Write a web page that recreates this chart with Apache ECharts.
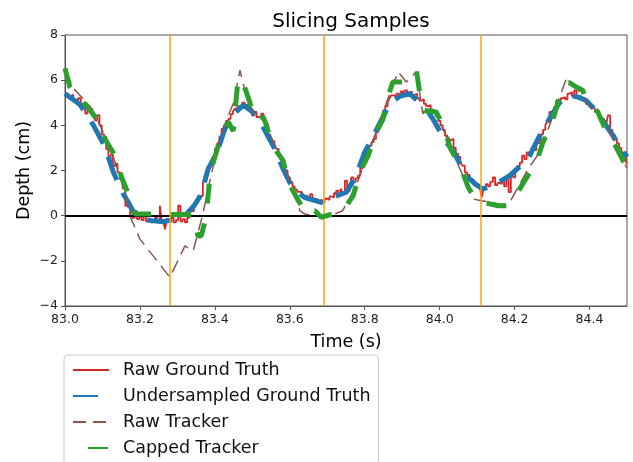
<!DOCTYPE html>
<html>
<head>
<meta charset="utf-8">
<script src="https://cdn.jsdelivr.net/npm/echarts@6/dist/echarts.min.js"></script>
<style>
  html, body { margin: 0; padding: 0; background: #fff; }
  #chart { width: 633px; height: 462px; }
</style>
</head>
<body>
<div id="chart"></div>
<script>
// [time (s), depth (cm)]
var rawGroundTruth = [
  [83.000,5.40],[83.008,5.30],[83.015,5.35],[83.022,5.15],[83.028,5.10],[83.035,5.20],[83.042,4.95],[83.048,5.00],
  [83.054,4.52],[83.060,4.85],[83.067,4.74],[83.073,4.40],[83.080,4.22],[83.086,4.45],[83.092,4.00],[83.098,3.60],
  [83.104,3.30],[83.110,2.95],[83.116,2.52],[83.122,2.70],[83.128,2.20],[83.134,2.30],[83.140,1.92],[83.147,1.60],
  [83.154,1.20],[83.161,0.44],[83.167,0.60],[83.174,0.00],[83.180,-0.10],[83.186,0.20],[83.192,-0.15],[83.198,-0.05],
  [83.204,-0.20],[83.210,0.10],[83.216,-0.25],[83.222,-0.15],[83.228,-0.30],[83.234,-0.20],[83.240,-0.10],[83.246,-0.25],
  [83.253,0.44],[83.258,-0.20],[83.263,-0.30],[83.267,-0.60],[83.272,-0.15],[83.278,-0.25],[83.284,-0.10],[83.290,-0.30],
  [83.296,-0.20],[83.302,0.44],[83.308,-0.25],[83.314,-0.15],[83.320,-0.30],[83.326,-0.10],[83.332,0.30],[83.338,0.20],
  [83.344,0.50],[83.350,0.60],[83.356,0.75],[83.362,0.88],[83.368,1.40],[83.373,1.77],[83.380,2.10],[83.387,2.37],
  [83.393,2.60],[83.400,2.96],[83.406,3.20],[83.412,3.50],[83.418,3.85],[83.424,4.00],[83.430,4.20],[83.436,4.29],
  [83.442,4.50],[83.448,4.60],[83.453,4.74],[83.460,4.85],[83.467,4.89],[83.473,5.00],[83.480,4.90],[83.486,4.95],
  [83.493,4.74],[83.499,4.44],[83.505,4.60],[83.511,4.37],[83.518,4.40],[83.524,4.52],[83.530,4.20],[83.536,4.05],
  [83.542,3.70],[83.547,3.40],[83.553,3.30],[83.559,3.05],[83.564,2.96],[83.570,2.70],[83.576,2.50],[83.582,2.22],
  [83.588,2.00],[83.594,1.70],[83.600,1.48],[83.607,1.30],[83.613,1.15],[83.620,1.05],[83.627,1.04],[83.633,0.85],
  [83.640,0.90],[83.647,0.80],[83.654,0.95],[83.660,0.75],[83.667,0.74],[83.673,0.65],[83.680,0.70],[83.686,0.59],
  [83.693,0.75],[83.700,0.70],[83.706,0.85],[83.712,0.80],[83.718,1.00],[83.724,1.11],[83.730,0.95],[83.736,1.20],
  [83.741,1.00],[83.747,1.55],[83.753,1.10],[83.760,1.04],[83.764,1.70],[83.770,1.50],[83.776,1.65],[83.782,1.77],
  [83.788,2.10],[83.794,2.40],[83.800,2.65],[83.806,2.80],[83.812,3.10],[83.818,3.26],[83.824,3.40],[83.830,3.70],
  [83.836,4.00],[83.842,4.25],[83.849,4.66],[83.855,4.85],[83.861,5.00],[83.866,5.20],[83.871,5.33],[83.878,5.25],
  [83.884,5.40],[83.890,5.35],[83.896,5.50],[83.902,5.40],[83.907,5.55],[83.913,5.45],[83.920,5.50],[83.926,5.35],
  [83.933,5.40],[83.940,5.20],[83.946,5.10],[83.952,5.15],[83.958,4.95],[83.964,4.85],[83.970,4.90],[83.976,4.70],
  [83.982,4.59],[83.989,4.40],[83.996,4.20],[84.002,4.00],[84.008,3.80],[84.014,3.55],[84.020,3.60],[84.025,3.35],
  [84.031,3.40],[84.037,3.00],[84.043,2.75],[84.049,2.60],[84.055,2.40],[84.060,2.22],[84.067,1.92],[84.073,1.80],
  [84.080,1.63],[84.086,1.55],[84.093,1.40],[84.100,1.35],[84.107,1.26],[84.112,0.81],[84.117,1.20],[84.123,1.40],
  [84.129,1.30],[84.135,1.50],[84.142,1.70],[84.148,1.35],[84.154,1.45],[84.160,1.40],[84.166,1.55],[84.172,1.30],
  [84.178,1.60],[84.184,1.04],[84.190,1.92],[84.196,1.70],[84.202,2.00],[84.208,2.20],[84.214,2.35],[84.220,2.66],
  [84.226,2.50],[84.232,2.80],[84.238,2.66],[84.245,3.00],[84.251,2.90],[84.258,3.33],[84.264,3.20],[84.270,3.60],
  [84.276,3.80],[84.282,4.00],[84.287,4.20],[84.293,4.59],[84.299,4.50],[84.305,4.80],[84.311,5.10],[84.317,5.00],
  [84.323,5.20],[84.329,5.25],[84.335,5.15],[84.341,5.40],[84.347,5.48],[84.353,5.30],[84.359,5.55],[84.365,5.25],
  [84.371,5.30],[84.378,5.20],[84.384,5.10],[84.390,4.95],[84.396,5.00],[84.402,4.80],[84.408,4.75],[84.414,4.60],
  [84.420,4.65],[84.426,4.40],[84.432,4.30],[84.438,4.20],[84.444,4.00],[84.449,4.44],[84.455,3.80],[84.461,3.60],
  [84.467,3.40],[84.473,3.20],[84.479,3.00],[84.485,2.80],[84.491,2.60],[84.497,2.40],[84.500,2.30]
];

var undersampledGroundTruth = [
  [83.000,5.40],[83.040,4.92],[83.076,4.00],[83.107,3.04],[83.129,1.92],[83.156,0.96],[83.191,-0.07],[83.230,-0.22],
  [83.262,-0.27],[83.295,-0.15],[83.324,0.07],[83.345,0.45],[83.364,0.96],[83.382,2.07],[83.404,2.74],[83.427,3.85],
  [83.450,4.50],[83.476,4.89],[83.500,4.60],[83.524,4.07],[83.560,2.96],[83.582,2.07],[83.609,1.18],[83.640,0.80],
  [83.684,0.59],[83.720,0.85],[83.751,1.04],[83.775,1.70],[83.800,2.81],[83.822,3.50],[83.844,4.22],[83.867,4.96],
  [83.895,5.30],[83.920,5.40],[83.964,4.74],[83.985,4.20],[84.009,3.48],[84.040,2.74],[84.071,1.77],[84.095,1.40],
  [84.116,1.18],[84.150,1.40],[84.187,1.77],[84.236,2.52],[84.267,3.55],[84.298,4.44],[84.320,5.00],[84.342,5.33],
  [84.370,5.25],[84.391,5.10],[84.420,4.60],[84.444,4.00],[84.480,3.10],[84.500,2.60]
];

var rawTracker = [
  [83.000,6.40],[83.027,5.55],[83.053,5.10],[83.080,4.50],[83.110,3.40],[83.140,2.10],[83.160,1.00],[83.173,0.00],
  [83.200,-1.04],[83.280,-2.73],[83.320,-1.34],[83.342,-1.56],[83.368,0.07],[83.390,1.80],[83.410,3.20],[83.430,4.20],
  [83.450,5.00],[83.467,6.44],[83.485,5.20],[83.507,4.40],[83.530,4.30],[83.560,3.10],[83.590,2.00],[83.627,0.22],
  [83.640,0.07],[83.701,-0.06],[83.741,0.22],[83.778,1.33],[83.800,2.40],[83.830,3.70],[83.860,5.10],[83.889,6.37],
  [83.911,5.92],[83.938,6.37],[83.955,4.52],[83.978,4.81],[84.000,4.20],[84.030,3.00],[84.062,1.77],[84.089,0.74],
  [84.111,0.66],[84.142,0.59],[84.165,0.45],[84.187,0.59],[84.236,2.07],[84.267,2.81],[84.300,4.30],[84.338,6.07],
  [84.364,5.70],[84.404,4.74],[84.420,4.60],[84.450,3.80],[84.500,2.10]
];

var cappedTracker = [
  [83.000,6.52],[83.013,5.70],[83.035,5.20],[83.056,4.91],[83.084,4.29],[83.109,3.33],[83.133,2.66],[83.151,1.70],
  [83.169,0.96],[83.187,0.07],[83.240,0.07],[83.293,0.05],[83.341,0.05],[83.355,-0.90],[83.364,-0.89],[83.377,0.00],
  [83.387,1.77],[83.396,2.37],[83.413,3.33],[83.436,4.15],[83.449,3.75],[83.462,6.07],[83.473,6.00],[83.493,5.03],
  [83.507,4.22],[83.529,4.37],[83.538,4.00],[83.551,3.18],[83.582,2.44],[83.596,1.48],[83.618,0.81],[83.644,0.07],
  [83.667,0.22],[83.684,-0.07],[83.742,0.22],[83.769,0.88],[83.787,1.92],[83.809,2.66],[83.831,3.70],[83.849,4.29],
  [83.862,5.26],[83.875,5.92],[83.902,5.92],[83.938,6.44],[83.947,5.40],[83.960,4.66],[83.991,4.59],[84.013,3.85],
  [84.027,3.04],[84.058,2.07],[84.076,1.26],[84.098,0.66],[84.156,0.44],[84.178,0.44],[84.200,0.81],[84.227,1.55],
  [84.258,2.37],[84.276,3.26],[84.298,4.00],[84.316,5.04],[84.329,5.63],[84.345,5.90],[84.364,5.70],[84.382,5.55],
  [84.391,5.10],[84.422,4.59],[84.444,3.77],[84.471,3.04],[84.500,2.10]
];

var sliceTimes = [83.28, 83.688, 84.112];
var xTicks = [83.0, 84.5, 0.2];   // min, max, step (84.5 has no label)
var yTicks = [-4, 8, 2];

var font = 'DejaVu Sans';
var chart = echarts.init(document.getElementById('chart'));

function fmtY(v) {
  return v < 0 ? '\u2212' + Math.abs(v) : String(v);
}

chart.setOption({
  animation: false,
  backgroundColor: '#fff',
  title: {
    text: 'Slicing Samples',
    left: 346,
    top: 7,
    textAlign: 'center',
    textStyle: { fontFamily: font, fontSize: 20, fontWeight: 'normal', color: '#000' }
  },
  grid: {
    left: 65, right: 6, top: 35, bottom: 156,
    outerBoundsMode: 'none',
    containLabel: false,
    show: true, borderColor: '#555', borderWidth: 1
  },
  legend: {
    orient: 'vertical',
    left: 64,
    top: 355,
    height: 140,
    padding: [5, 8, 8, 8],
    itemWidth: 36,
    itemHeight: 14,
    itemGap: 6,
    backgroundColor: '#fff',
    borderColor: '#ccc',
    borderWidth: 1,
    borderRadius: 4,
    itemStyle: { opacity: 0 },
    textStyle: { fontFamily: font, fontSize: 17.5, color: '#111', lineHeight: 20, padding: [0, 0, 0, 9] },
    data: [
      'Raw Ground Truth',
      'Undersampled Ground Truth',
      'Raw Tracker',
      { name: 'Capped Tracker', lineStyle: { dashOffset: 25 } }
    ]
  },
  xAxis: {
    type: 'value',
    min: xTicks[0], max: xTicks[1], interval: xTicks[2],
    name: 'Time (s)',
    nameLocation: 'middle',
    nameGap: 27,
    nameTextStyle: { fontFamily: font, fontSize: 17.5, color: '#000' },
    axisLine: { show: true, onZero: false, lineStyle: { color: '#555' } },
    axisTick: { show: true, length: 4, lineStyle: { color: '#555' } },
    axisLabel: {
      fontFamily: font, fontSize: 12.5, color: '#222', margin: 7,
      showMaxLabel: false,
      formatter: function (v) { return v.toFixed(1); }
    },
    splitLine: { show: false }
  },
  yAxis: {
    type: 'value',
    min: yTicks[0], max: yTicks[1], interval: yTicks[2],
    name: 'Depth (cm)',
    nameLocation: 'middle',
    nameGap: 32,
    nameMoveOverlap: false,
    nameTextStyle: { fontFamily: font, fontSize: 17.5, color: '#000' },
    axisLine: { show: true, onZero: false, lineStyle: { color: '#555' } },
    axisTick: { show: true, length: 4, lineStyle: { color: '#555' } },
    axisLabel: { fontFamily: font, fontSize: 12.5, color: '#222', margin: 7, formatter: fmtY },
    splitLine: { show: false }
  },
  series: [
    {
      name: 'Raw Ground Truth',
      type: 'line',
      step: 'end',
      data: rawGroundTruth,
      symbol: 'none',
      color: '#d62728',
      lineStyle: { width: 1.8, color: '#d62728' },
      z: 2
    },
    {
      name: 'Undersampled Ground Truth',
      type: 'line',
      data: undersampledGroundTruth,
      symbol: 'none',
      color: '#1f77b4',
      lineStyle: { width: 5, color: '#1f77b4', type: [25, 14] },
      z: 3
    },
    {
      name: 'Raw Tracker',
      type: 'line',
      data: rawTracker,
      symbol: 'none',
      color: '#8c564b',
      lineStyle: { width: 1.5, color: '#8c564b', type: [13, 7] },
      z: 4
    },
    {
      name: 'Capped Tracker',
      type: 'line',
      data: cappedTracker,
      symbol: 'none',
      color: '#2ca02c',
      lineStyle: { width: 5, color: '#2ca02c', type: [20, 20], dashOffset: 0 },
      z: 6
    },
    {
      name: 'refs',
      type: 'line',
      data: [],
      z: 5,
      markLine: {
        silent: true,
        symbol: 'none',
        label: { show: false },
        data: [{ yAxis: 0, lineStyle: { color: '#000', width: 2, type: 'solid' } }].concat(
          sliceTimes.map(function (t) {
            return { xAxis: t, lineStyle: { color: '#ffa500', width: 1.5, type: 'solid' } };
          })
        )
      }
    }
  ]
});
</script>
</body>
</html>
